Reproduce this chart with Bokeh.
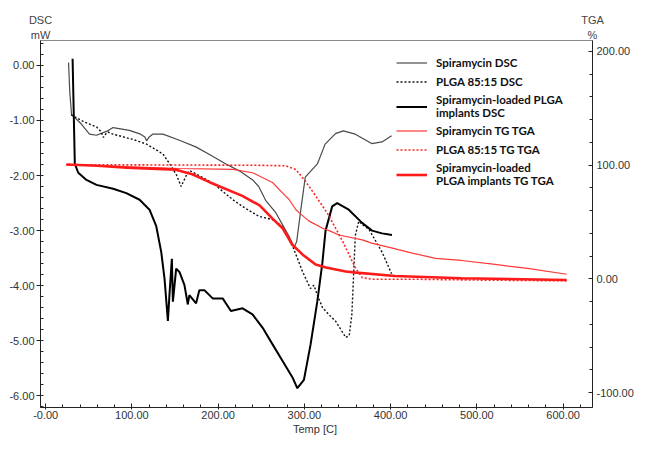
from bokeh.plotting import figure
from bokeh.models import (Range1d, LinearAxis, FixedTicker, PrintfTickFormatter,
                          Legend, LegendItem)
from bokeh.embed import file_html
from bokeh.resources import INLINE

# ---------------- data ----------------
spir_dsc_T = [26.5, 28, 30, 41.6, 50.8, 58.9, 70.4, 78.2, 97, 110, 115, 117, 120, 124, 136,
              155, 174, 190, 209, 225, 240, 247, 255, 267, 282, 288, 291, 296, 301, 315,
              324, 336, 345, 359, 378, 390, 401]
spir_dsc = [0.05, -0.5, -0.89, -1.07, -1.25, -1.27, -1.2, -1.13, -1.18, -1.25, -1.3, -1.37,
            -1.3, -1.25, -1.25, -1.36, -1.48, -1.62, -1.79, -1.92, -2.08, -2.2, -2.45, -2.68,
            -3.1, -3.3, -3.2, -2.6, -2.03, -1.79, -1.43, -1.24, -1.19, -1.25, -1.42, -1.39, -1.28]

plga_dsc_T = [29.5, 45, 59, 64, 67, 70, 72, 78, 100, 117, 136, 146, 152, 157, 160, 163, 167,
              180, 194, 217, 228, 247, 263, 274, 286, 298, 307, 311, 315, 321, 330, 336, 348,
              352, 355, 359, 363, 368, 375, 390, 401]
plga_dsc = [-0.9, -1.03, -1.12, -1.2, -1.31, -1.24, -1.21, -1.25, -1.34, -1.43, -1.61, -1.84,
            -2.0, -2.2, -2.1, -2.0, -1.91, -2.02, -2.14, -2.44, -2.56, -2.74, -2.8, -2.92,
            -3.27, -3.75, -4.05, -3.99, -4.17, -4.4, -4.55, -4.64, -4.94, -4.9, -4.52, -3.09,
            -2.83, -2.9, -2.98, -3.39, -3.78]

load_dsc_T = [31.2, 33.8, 37.8, 47.3, 58.9, 78.2, 93.5, 108.9, 120.4, 128.2, 134, 137.8, 141.7,
              143.5, 146.3, 147.5, 151.3, 155.1, 160.9, 164.8, 166.6, 174.4, 178.2, 184, 193.6,
              205.2, 214.8, 228.3, 239.8, 251.4, 262.9, 274.5, 286, 291.8, 299.4, 307.2, 314.9,
              320.7, 324.5, 332.2, 338, 351.4, 366.9, 378.4, 390, 401.5]
load_dsc = [0.12, -1.79, -1.95, -2.08, -2.17, -2.24, -2.32, -2.44, -2.62, -2.92, -3.39, -3.87,
            -4.64, -4.17, -3.51, -4.29, -3.69, -3.75, -3.99, -4.34, -4.17, -4.32, -4.08, -4.08,
            -4.23, -4.23, -4.46, -4.41, -4.52, -4.76, -5.06, -5.36, -5.66, -5.86, -5.71, -5.06,
            -4.29, -3.6, -3.0, -2.56, -2.5, -2.62, -2.86, -3.0, -3.05, -3.08]

spir_tg_T = [24, 60, 100, 155, 200, 217, 240, 263, 278, 282, 290, 294, 305, 321, 330, 340, 367,
             378, 402, 425, 452, 482, 521, 559, 604]
spir_tg = [100.5, 99.5, 98.5, 97, 96.5, 96.2, 93.3, 84.7, 73, 70, 61, 58, 51, 44.5, 42, 38.6,
           34.3, 31.4, 27, 22.7, 18, 16.2, 12.7, 9.2, 4.1]

plga_tg_T = [24, 100, 200, 250, 278, 290, 301, 313, 328, 345, 359, 367, 378, 428, 500, 604]
plga_tg = [100.3, 100.2, 100, 99.8, 99.4, 96.2, 86, 73, 56, 32, 9.8, 1.1, -0.3, -0.3, -1, -1.7]

load_tg_T = [24, 60, 94, 151, 170, 190, 228, 248, 263, 275, 286, 298, 313, 325, 348, 360, 405,
             482, 604]
load_tg = [100.5, 99.5, 97.7, 96, 92, 85, 73, 64.6, 53, 44.3, 30, 21.3, 12.7, 10, 6.5, 5.5,
           2.6, 0.6, -0.9]

x_ticks = [0, 100, 200, 300, 400, 500, 600]
dsc_ticks = [-6, -5, -4, -3, -2, -1, 0]
tga_ticks = [-100, 0, 100, 200]

labels = ["Spiramycin DSC", "PLGA 85:15 DSC", "Spiramycin-loaded PLGA\nimplants DSC",
          "Spiramycin TG TGA", "PLGA 85:15 TG TGA", "Spiramycin-loaded\nPLGA implants TG TGA"]

unit_row = {0: "mW", 1: "%"}        # axis units, under the axis names
name_row = {0: "DSC", 1: "TGA"}     # axis names (left = DSC, right = TGA)

FRAME_H = 367

# ---------------- figure ----------------
p = figure(frame_width=552, frame_height=FRAME_H,
           x_range=Range1d(-6, 634), y_range=Range1d(-6.21, 0.45),
           output_backend="svg", toolbar_location=None,
           min_border_left=40, min_border_right=38, min_border_top=40, min_border_bottom=28)
p.extra_y_ranges = {"tga": Range1d(-113, 209.5)}
p.extra_x_ranges = {"edges": Range1d(0, 1)}
p.xgrid.visible = False
p.ygrid.visible = False
p.outline_line_color = "#8a8a8a"
p.background_fill_color = "white"
p.border_fill_color = "white"

TICK_FONT = "Liberation Sans"

def style_axis(ax):
    ax.axis_line_color = "#222222"
    ax.major_tick_line_color = "#222222"
    ax.minor_tick_line_color = "#222222"
    ax.major_label_text_font = TICK_FONT
    ax.major_label_text_font_size = "11px"
    ax.major_label_text_color = "#333333"

xa = p.xaxis[0]
style_axis(xa)
xa.ticker = FixedTicker(ticks=x_ticks, minor_ticks=list(range(0, 640, 20)))
xa.formatter = PrintfTickFormatter(format="%.2f")
xa.major_label_overrides = {0: "-0.00"}
xa.major_tick_in = 4
xa.major_tick_out = 2
xa.minor_tick_in = 3
xa.minor_tick_out = 0
xa.major_label_standoff = 1
xa.axis_label = "Temp  [C]"
xa.axis_label_text_font = TICK_FONT
xa.axis_label_text_font_size = "11px"
xa.axis_label_text_font_style = "normal"
xa.axis_label_text_color = "#333333"
xa.axis_label_standoff = 1

ya = p.yaxis[0]
style_axis(ya)
ya.ticker = FixedTicker(ticks=dsc_ticks,
                        minor_ticks=[round(-6.2 + 0.2 * i, 2) for i in range(34)])
ya.formatter = PrintfTickFormatter(format="%.2f")
ya.major_tick_in = 0
ya.major_tick_out = 4
ya.minor_tick_in = 3
ya.minor_tick_out = 0
ya.major_label_standoff = 2

ra = LinearAxis(y_range_name="tga")
style_axis(ra)
ra.ticker = FixedTicker(ticks=tga_ticks, minor_ticks=list(range(-100, 220, 20)))
ra.formatter = PrintfTickFormatter(format="%.2f")
ra.major_tick_in = 4
ra.major_tick_out = 0
ra.minor_tick_in = 3
ra.minor_tick_out = 0
ra.major_label_standoff = 4
p.add_layout(ra, "right")

# axis names / units shown above the frame corners (label-only axes)
def title_axis(overrides):
    ax = LinearAxis(x_range_name="edges")
    ax.ticker = FixedTicker(ticks=[0, 1], minor_ticks=[])
    ax.major_label_overrides = overrides
    ax.axis_line_color = None
    ax.major_tick_line_color = None
    ax.minor_tick_line_color = None
    ax.major_tick_in = 0
    ax.major_tick_out = 0
    ax.major_label_standoff = 0
    ax.major_label_text_font = TICK_FONT
    ax.major_label_text_font_size = "11px"
    ax.major_label_text_color = "#444444"
    return ax

p.add_layout(title_axis(unit_row), "above")
p.add_layout(title_axis(name_row), "above")

# ---------------- curves ----------------
r1 = p.line(spir_dsc_T, spir_dsc, line_color="#4a4a4a", line_width=1.2)
r2 = p.line(plga_dsc_T, plga_dsc, line_color="#111111", line_width=1.4, line_dash="2 2")
r3 = p.line(load_dsc_T, load_dsc, line_color="#000000", line_width=2.0)
r4 = p.line(spir_tg_T, spir_tg, line_color="#ff3838", line_width=1.2, y_range_name="tga")
r5 = p.line(plga_tg_T, plga_tg, line_color="#ff2222", line_width=1.6, line_dash="2 2",
            y_range_name="tga")
r6 = p.line(load_tg_T, load_tg, line_color="#ff1a1a", line_width=2.6, y_range_name="tga")

legend = Legend(items=[LegendItem(label=l, renderers=[r]) for l, r in
                       zip(labels, [r1, r2, r3, r4, r5, r6])],
                location=(356, FRAME_H - 7 - 140))
legend.label_text_font = "Lato"
legend.label_text_font_style = "bold"
legend.label_text_font_size = "11.5px"
legend.label_text_color = "#111111"
legend.label_text_line_height = 1.3
legend.label_height = 15
legend.glyph_height = 15
legend.glyph_width = 31
legend.label_standoff = 9
legend.spacing = 4
legend.padding = 0
legend.margin = 0
legend.border_line_alpha = 0
legend.background_fill_alpha = 0
p.add_layout(legend)

open("out.html", "w").write(file_html(p, INLINE))
